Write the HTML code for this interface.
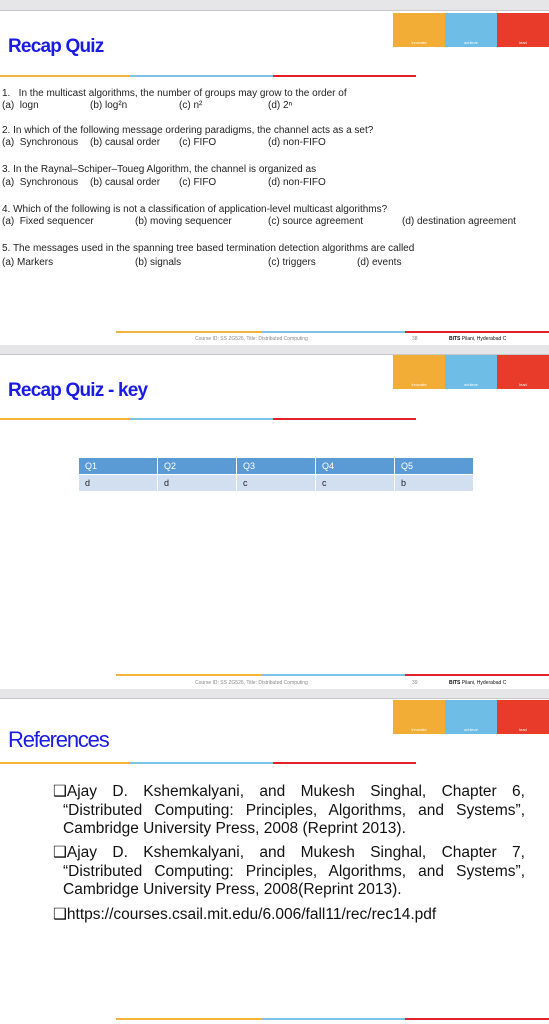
<!DOCTYPE html>
<html><head><meta charset="utf-8"><style>
body{margin:0;width:549px;height:1024px;background:#fff;position:relative;overflow:hidden;font-family:"Liberation Sans",sans-serif;}
.band{position:absolute;left:0;width:549px;background:#e6e6e8;border-bottom:1px solid #c8c8cc;}
.t{position:absolute;font-size:10px;color:#222;white-space:nowrap;line-height:11px;}
.title{position:absolute;left:8px;color:#1a1ae6;font-weight:bold;font-size:19px;letter-spacing:-0.8px;}
.ul{position:absolute;height:2px;}
.ban{position:absolute;left:393px;width:156px;height:34px;display:flex;}
.ban div{flex:1;font-size:4px;color:#fff;text-align:center;display:flex;align-items:flex-end;justify-content:center;padding-bottom:2px;box-sizing:border-box;}
.foot{position:absolute;font-size:5px;color:#888;}
.ref{position:absolute;left:53px;width:472px;font-size:15.5px;line-height:18.6px;color:#111;text-align:justify;}
.ref p{margin:0 0 5.5px 0;text-indent:-10px;padding-left:10px;}
table{position:absolute;left:78px;top:457px;border-collapse:collapse;font-size:9px;}
td{width:72px;height:16px;padding:0 0 0 6px;border:1px solid #fff;}
</style></head><body>
<div class="band" style="top:0;height:10px"></div>

<!-- Slide 1 -->
<div class="ban" style="top:13px"><div style="background:#f2ad37">innovate</div><div style="background:#6dbde6">achieve</div><div style="background:#e83b2a">lead</div></div>
<div class="title" style="top:36px">Recap Quiz</div>
<div class="ul" style="top:75px;left:0;width:130px;background:#f3b33d"></div>
<div class="ul" style="top:75px;left:130px;width:143px;background:#7cc3e6"></div>
<div class="ul" style="top:75px;left:273px;width:143px;background:#e0202a"></div>

<div class="t" style="left:2px;top:88px">1.&nbsp;&nbsp; In the multicast algorithms, the number of groups may grow to the order of</div>
<div class="t" style="left:2px;top:100px">(a)&nbsp; logn</div><div class="t" style="left:90px;top:100px">(b) log²n</div><div class="t" style="left:179px;top:100px">(c) n²</div><div class="t" style="left:268px;top:100px">(d) 2ⁿ</div>

<div class="t" style="left:2px;top:125px">2. In which of the following message ordering paradigms, the channel acts as a set?</div>
<div class="t" style="left:2px;top:137px">(a)&nbsp; Synchronous</div><div class="t" style="left:90px;top:137px">(b) causal order</div><div class="t" style="left:179px;top:137px">(c) FIFO</div><div class="t" style="left:268px;top:137px">(d) non-FIFO</div>

<div class="t" style="left:2px;top:164px">3. In the Raynal–Schiper–Toueg Algorithm, the channel is organized as</div>
<div class="t" style="left:2px;top:177px">(a)&nbsp; Synchronous</div><div class="t" style="left:90px;top:177px">(b) causal order</div><div class="t" style="left:179px;top:177px">(c) FIFO</div><div class="t" style="left:268px;top:177px">(d) non-FIFO</div>

<div class="t" style="left:2px;top:204px">4. Which of the following is not a classification of application-level multicast algorithms?</div>
<div class="t" style="left:2px;top:216px">(a)&nbsp; Fixed sequencer</div><div class="t" style="left:135px;top:216px">(b) moving sequencer</div><div class="t" style="left:268px;top:216px">(c) source agreement</div><div class="t" style="left:402px;top:216px">(d) destination agreement</div>

<div class="t" style="left:2px;top:243px">5. The messages used in the spanning tree based termination detection algorithms are called</div>
<div class="t" style="left:2px;top:257px">(a) Markers</div><div class="t" style="left:135px;top:257px">(b) signals</div><div class="t" style="left:268px;top:257px">(c) triggers</div><div class="t" style="left:357px;top:257px">(d) events</div>

<div class="ul" style="top:331px;left:116px;width:146px;background:#f3b33d"></div>
<div class="ul" style="top:331px;left:262px;width:143px;background:#7cc3e6"></div>
<div class="ul" style="top:331px;left:405px;width:144px;background:#e0202a"></div>
<div class="foot" style="left:195px;top:336px">Course ID: SS ZG526, Title: Distributed Computing</div>
<div class="foot" style="left:412px;top:336px">38</div>
<div class="foot" style="left:449px;top:336px;color:#111;font-weight:bold">BITS <span style="font-weight:normal">Pilani, Hyderabad C</span></div>
<div class="band" style="top:345px;height:9px"></div>

<!-- Slide 2 -->
<div class="ban" style="top:355px"><div style="background:#f2ad37">innovate</div><div style="background:#6dbde6">achieve</div><div style="background:#e83b2a">lead</div></div>
<div class="title" style="top:380px">Recap Quiz - key</div>
<div class="ul" style="top:418px;left:0;width:130px;background:#f3b33d"></div>
<div class="ul" style="top:418px;left:130px;width:143px;background:#7cc3e6"></div>
<div class="ul" style="top:418px;left:273px;width:143px;background:#e0202a"></div>
<table>
<tr style="background:#5b9bd5;color:#fff"><td>Q1</td><td>Q2</td><td>Q3</td><td>Q4</td><td>Q5</td></tr>
<tr style="background:#d2dff0;color:#222"><td>d</td><td>d</td><td>c</td><td>c</td><td>b</td></tr>
</table>

<div class="ul" style="top:674px;left:116px;width:146px;background:#f3b33d"></div>
<div class="ul" style="top:674px;left:262px;width:143px;background:#7cc3e6"></div>
<div class="ul" style="top:674px;left:405px;width:144px;background:#e0202a"></div>
<div class="foot" style="left:195px;top:680px">Course ID: SS ZG526, Title: Distributed Computing</div>
<div class="foot" style="left:412px;top:680px">39</div>
<div class="foot" style="left:449px;top:680px;color:#111;font-weight:bold">BITS <span style="font-weight:normal">Pilani, Hyderabad C</span></div>
<div class="band" style="top:689px;height:9px"></div>

<!-- Slide 3 -->
<div class="ban" style="top:700px"><div style="background:#f2ad37">innovate</div><div style="background:#6dbde6">achieve</div><div style="background:#e83b2a">lead</div></div>
<div class="title" style="top:727px;font-weight:normal;font-size:22px;letter-spacing:-1.2px">References</div>
<div class="ul" style="top:762px;left:0;width:130px;background:#f3b33d"></div>
<div class="ul" style="top:762px;left:130px;width:143px;background:#7cc3e6"></div>
<div class="ul" style="top:762px;left:273px;width:143px;background:#e0202a"></div>
<div class="ref" style="top:783px">
<p>❑Ajay D. Kshemkalyani, and Mukesh Singhal, Chapter 6, “Distributed Computing: Principles, Algorithms, and Systems”, Cambridge University Press, 2008 (Reprint 2013).</p>
<p>❑Ajay D. Kshemkalyani, and Mukesh Singhal, Chapter 7, “Distributed Computing: Principles, Algorithms, and Systems”, Cambridge University Press, 2008(Reprint 2013).</p>
<p>❑https://courses.csail.mit.edu/6.006/fall11/rec/rec14.pdf</p>
</div>
<div class="ul" style="top:1018px;left:116px;width:146px;background:#f3b33d"></div>
<div class="ul" style="top:1018px;left:262px;width:143px;background:#7cc3e6"></div>
<div class="ul" style="top:1018px;left:405px;width:144px;background:#e0202a"></div>
</body></html>
